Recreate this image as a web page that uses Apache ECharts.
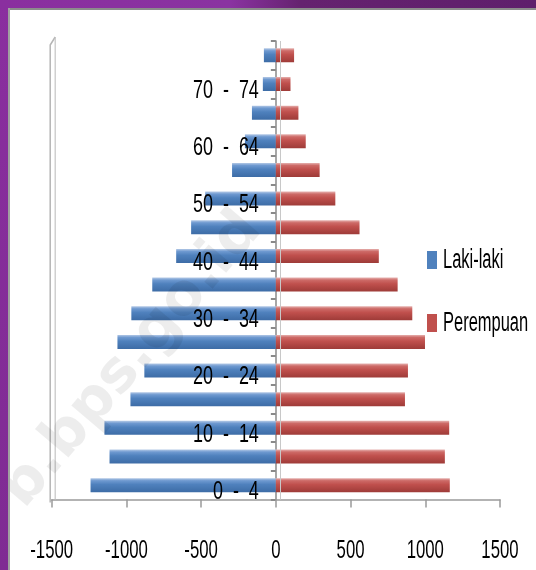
<!DOCTYPE html>
<html>
<head>
<meta charset="utf-8">
<style>
  html, body { margin: 0; padding: 0; background: #ffffff; }
  #chart { width: 536px; height: 570px; }
</style>
<script src="https://cdn.jsdelivr.net/npm/echarts@6/dist/echarts.min.js"></script>
</head>
<body>
<div id="chart"></div>
<script>
// Age groups, youngest first (bottom of the pyramid)
var ageGroups = ['0  -  4', '5  -  9', '10  -  14', '15  -  19', '20  -  24', '25  -  29',
  '30  -  34', '35  -  39', '40  -  44', '45  -  49', '50  -  54', '55  -  59',
  '60  -  64', '65  -  69', '70  -  74', '75+'];

// Male counts (plotted to the left as negatives)
var lakiLaki = [1240, 1113, 1147, 973, 880, 1060, 967, 827, 667, 567, 473, 293, 207, 160, 87, 80];

// Female counts
var perempuan = [1164, 1131, 1160, 864, 884, 998, 913, 815, 689, 560, 398, 293, 200, 151, 98, 122];

// Value axis ticks
var xTicks = [-1500, -1000, -500, 0, 500, 1000, 1500];

var seriesNames = ['Laki-laki', 'Perempuan'];
var seriesColors = ['#4f81bd', '#c0504d'];

// Tall, condensed lettering: a regular sans squeezed horizontally
var FONT = '"Liberation Sans", Arial, sans-serif';

function barGradient(light, mid, base, dark) {
  return new echarts.graphic.LinearGradient(0, 0, 0, 1, [
    { offset: 0, color: light },
    { offset: 0.18, color: mid },
    { offset: 0.45, color: base },
    { offset: 1, color: dark }
  ]);
}

var chart = echarts.init(document.getElementById('chart'), null, { renderer: 'canvas' });

chart.setOption({
  animation: false,
  backgroundColor: '#ffffff',
  grid: { left: 51.7, right: 36, top: 41, bottom: 70.5, containLabel: false, outerBoundsMode: 'none' },
  legend: {
    orient: 'vertical',
    left: 427,
    top: 251,
    padding: 0,
    itemWidth: 10,
    itemHeight: 18,
    itemGap: 45,
    icon: 'rect',
    formatter: function () { return ''; },
    textStyle: { fontSize: 12 },
    data: [
      { name: seriesNames[0], itemStyle: { color: seriesColors[0] } },
      { name: seriesNames[1], itemStyle: { color: seriesColors[1] } }
    ]
  },
  xAxis: {
    type: 'value',
    min: xTicks[0],
    max: xTicks[xTicks.length - 1],
    interval: 500,
    axisLine: { show: true, onZero: false, lineStyle: { color: '#9a9a9a', width: 1.5 } },
    axisTick: { show: true, length: 8, lineStyle: { color: '#9a9a9a', width: 1.5 } },
    splitLine: { show: false },
    axisLabel: { show: false }
  },
  yAxis: {
    type: 'category',
    data: ageGroups,
    axisLine: { show: true, onZero: true, lineStyle: { color: '#8a8a8a', width: 1.5 } },
    axisTick: { show: true, length: 5, lineStyle: { color: '#8a8a8a', width: 2 } },
    axisLabel: { show: false },
    splitLine: { show: false }
  },
  series: [
    {
      name: seriesNames[0],
      type: 'bar',
      stack: 'pyramid',
      barWidth: 14,
      data: lakiLaki.map(function (v) { return -v; }),
      itemStyle: {
        color: barGradient('#b4c9e6', '#6e99d0', '#4f81bd', '#3d6ca6'),
        shadowColor: 'rgba(0,0,0,0.25)',
        shadowBlur: 3,
        shadowOffsetY: 1
      }
    },
    {
      name: seriesNames[1],
      type: 'bar',
      stack: 'pyramid',
      barWidth: 14,
      data: perempuan,
      itemStyle: {
        color: barGradient('#e6b2b0', '#cd6a67', '#c0504d', '#9e3b38'),
        shadowColor: 'rgba(0,0,0,0.25)',
        shadowBlur: 3,
        shadowOffsetY: 1
      },
      markLine: {
        silent: true,
        symbol: 'none',
        label: { show: false },
        lineStyle: { color: '#c8c8c8', width: 1, type: 'solid' },
        data: [{ xAxis: 30 }]
      }
    }
  ]
});

// Pixel geometry taken from the axes
function px(v) { return chart.convertToPixel({ xAxisIndex: 0 }, v); }
function py(cat) { return chart.convertToPixel({ yAxisIndex: 0 }, cat); }

var leftX = px(xTicks[0]);
var zeroX = px(0);
var floorY = 499.5;
var topY = 37;

function squeezedText(str, x, y, size, sx, align) {
  return {
    type: 'text', x: x, y: y, scaleX: sx, scaleY: 1, z: 40,
    style: { text: str, fontFamily: FONT, fontSize: size, fill: '#000000',
      align: align, verticalAlign: 'middle' }
  };
}

var graphics = [];

// value axis labels under the floor
xTicks.forEach(function (v) {
  graphics.push(squeezedText(String(v), px(v), 551, 25, 0.67, 'center'));
});

// every other age group is labelled, beside the zero line
ageGroups.forEach(function (name, i) {
  if (i % 2 === 0) {
    graphics.push(squeezedText(name, zeroX - 17, py(name) + 6.5, 26, 0.69, 'right'));
  }
});

// legend captions
graphics.push(squeezedText(seriesNames[0], 443, 261, 27, 0.61, 'left'));
graphics.push(squeezedText(seriesNames[1], 443, 324, 27, 0.61, 'left'));

graphics.push(
  // purple frame, left edge
  { type: 'rect', shape: { x: 0, y: 0, width: 8, height: 570 },
    style: { fill: new echarts.graphic.LinearGradient(0, 0, 0, 1, [
      { offset: 0, color: '#8a2f9f' }, { offset: 1, color: '#7f2b93' }]) }, z: 100 },
  // purple frame, top edge
  { type: 'rect', shape: { x: 0, y: 0, width: 536, height: 8 },
    style: { fill: new echarts.graphic.LinearGradient(0, 0, 1, 0, [
      { offset: 0, color: '#8a2f9f' }, { offset: 0.43, color: '#8a33a1' },
      { offset: 0.56, color: '#65226f' }, { offset: 1, color: '#5f1f6c' }]) }, z: 100 },
  // grey inner rule of the frame
  { type: 'rect', shape: { x: 8, y: 8, width: 528, height: 2 }, style: { fill: '#8c8c8c' }, z: 100 },
  { type: 'rect', shape: { x: 8, y: 8, width: 2, height: 562 }, style: { fill: '#a0a0a0' }, z: 100 },
  // side wall edge on the left
  { type: 'polyline', shape: { points: [[leftX - 1.5, floorY + 3], [leftX - 1.5, topY + 8], [leftX + 3.5, topY]] },
    style: { stroke: '#b5b5b5', lineWidth: 1.5, fill: null }, z: 5 },
  { type: 'line', shape: { x1: leftX + 3.5, y1: topY, x2: leftX + 3.5, y2: floorY },
    style: { stroke: '#c4c4c4', lineWidth: 1.2 }, z: 5 },
  // watermark
  { type: 'text', x: 132, y: 360, rotation: 49.5 * Math.PI / 180,
    style: { text: 'b.bps.go.id', fontFamily: '"DejaVu Sans", sans-serif', fontWeight: 'bold',
      fontSize: 58, fill: 'rgba(0,0,0,0.07)', align: 'center', verticalAlign: 'middle' }, z: 50 }
);

chart.setOption({ graphic: graphics });
</script>
</body>
</html>
